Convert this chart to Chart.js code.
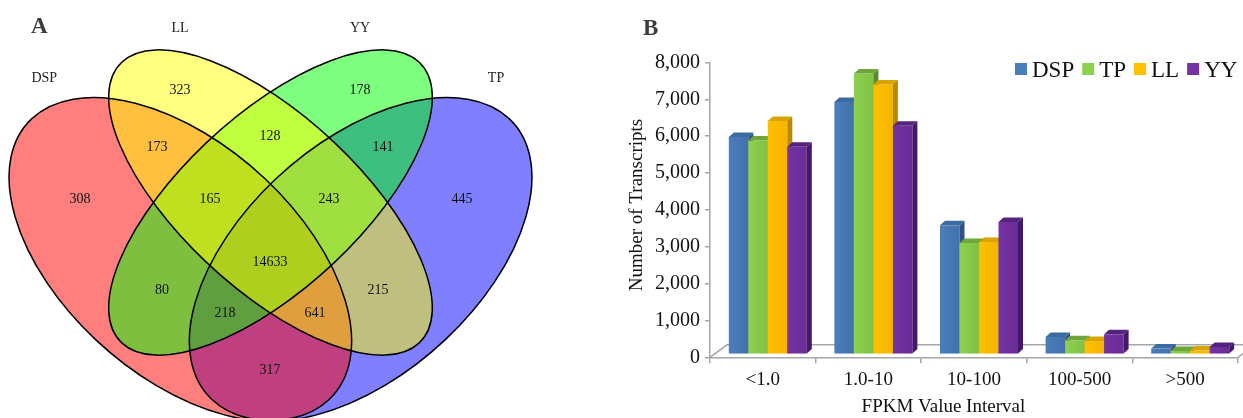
<!DOCTYPE html>
<html><head><meta charset="utf-8">
<script src="https://cdn.jsdelivr.net/npm/chart.js@4.4.0/dist/chart.umd.min.js"></script>
<style>
html,body{margin:0;padding:0;background:#fff;}
#wrap{position:relative;width:1243px;height:418px;overflow:hidden;background:#fff;}
#venn{position:absolute;left:0;top:0;}
#bars{position:absolute;left:600px;top:0;}
</style></head><body>
<div id="wrap"><canvas id="venn" width="600" height="418"></canvas><canvas id="bars" width="643" height="418"></canvas></div>
<script>
const SERIF = "'Times New Roman', 'Liberation Serif', serif";

// ---------- Panel A data ----------
const vennSets = ['DSP', 'LL', 'YY', 'TP'];
const vennRegions = ['DSP', 'LL', 'YY', 'TP', 'DSP∩LL', 'LL∩YY', 'YY∩TP', 'DSP∩LL∩YY', 'LL∩YY∩TP',
  'DSP∩LL∩YY∩TP', 'DSP∩YY', 'DSP∩YY∩TP', 'DSP∩LL∩TP', 'LL∩TP', 'DSP∩TP'];
const vennCounts = [308, 323, 178, 445, 173, 128, 141, 165, 243, 14633, 80, 218, 641, 215, 317];

// ---------- Panel B data ----------
const intervals = ['<1.0', '1.0-10', '10-100', '100-500', '>500'];
const seriesNames = ['DSP', 'TP', 'LL', 'YY'];
const dspValues = [5900, 6850, 3500, 470, 155];
const tpValues = [5800, 7620, 3020, 380, 90];
const llValues = [6330, 7320, 3050, 360, 100];
const yyValues = [5630, 6200, 3590, 543, 200];
const yTickValues = [0, 1000, 2000, 3000, 4000, 5000, 6000, 7000, 8000];

// ---------- Panel A layout (Venn geometry in unit-square coordinates) ----------
const vennShapes = { // drawn in this order so the 50% fills blend as in the figure
  TP:  { cx: 0.65, cy: 0.47, a: 0.35, b: 0.20, rot: 45,  fill: 'rgba(0,0,255,0.5)' },
  DSP: { cx: 0.35, cy: 0.47, a: 0.35, b: 0.20, rot: -45, fill: 'rgba(255,0,0,0.5)' },
  YY:  { cx: 0.50, cy: 0.57, a: 0.35, b: 0.15, rot: 45,  fill: 'rgba(0,255,0,0.5)' },
  LL:  { cx: 0.50, cy: 0.57, a: 0.35, b: 0.15, rot: -45, fill: 'rgba(255,255,0,0.5)' }
};
const vennDrawOrder = ['TP', 'DSP', 'YY', 'LL'];
const vennSetLabelPos = { DSP: [0.1235, 0.7896], LL: [0.3494, 0.8778], YY: [0.6489, 0.8778], TP: [0.8752, 0.7896] };
const vennRegionPos = [
  [0.1830, 0.5762], [0.3494, 0.7685], [0.6489, 0.7685], [0.8186, 0.5762],
  [0.3111, 0.6679], [0.4992, 0.6873], [0.6872, 0.6679], [0.3993, 0.5762], [0.5973, 0.5762],
  [0.4992, 0.4651], [0.3195, 0.4157], [0.4243, 0.3751], [0.5740, 0.3751], [0.6789, 0.4157], [0.4992, 0.2744]
];

const vennPlugin = {
  id: 'vennPlugin',
  beforeDatasetsDraw(chart) {
    const { ctx, scales: { x, y } } = chart;
    const sx = x.getPixelForValue(1) - x.getPixelForValue(0);
    const sy = y.getPixelForValue(0) - y.getPixelForValue(1);
    const paths = {};
    vennDrawOrder.forEach(name => {
      const e = vennShapes[name];
      ctx.save();
      ctx.translate(x.getPixelForValue(e.cx), y.getPixelForValue(e.cy));
      ctx.scale(sx, -sy);
      ctx.rotate(e.rot * Math.PI / 180);
      const p = new Path2D();
      p.ellipse(0, 0, e.a, e.b, 0, 0, Math.PI * 2);
      const m = ctx.getTransform();
      ctx.restore();
      const dp = new Path2D();
      dp.addPath(p, m);
      paths[name] = dp;
      ctx.save();
      ctx.setTransform(1, 0, 0, 1, 0, 0);
      ctx.fillStyle = e.fill;
      ctx.fill(dp);
      ctx.restore();
    });
    ctx.save();
    ctx.setTransform(1, 0, 0, 1, 0, 0);
    ctx.strokeStyle = '#000';
    ctx.lineWidth = 1.5;
    vennDrawOrder.forEach(name => ctx.stroke(paths[name]));
    ctx.restore();
  },
  afterDatasetsDraw(chart) {
    const { ctx, scales: { x, y } } = chart;
    const meta = chart.getDatasetMeta(0);
    ctx.save();
    ctx.fillStyle = '#111';
    ctx.textAlign = 'center';
    ctx.textBaseline = 'middle';
    ctx.font = '14px ' + SERIF;
    meta.data.forEach((pt, i) => ctx.fillText(String(vennCounts[i]), pt.x, pt.y));
    ctx.fillStyle = '#222';
    vennSets.forEach(s => {
      const p = vennSetLabelPos[s];
      ctx.fillText(s, x.getPixelForValue(p[0]), y.getPixelForValue(p[1]));
    });
    ctx.fillStyle = '#3c3c3c';
    ctx.textAlign = 'left';
    ctx.textBaseline = 'alphabetic';
    ctx.font = 'bold 23px ' + SERIF;
    ctx.fillText('A', 31, 33);
    ctx.restore();
  }
};

new Chart(document.getElementById('venn'), {
  type: 'scatter',
  data: { datasets: [{ label: 'regions', data: vennRegionPos.map(p => ({ x: p[0], y: p[1] })), pointRadius: 0 }] },
  options: {
    responsive: false, animation: false,
    layout: { padding: 0 },
    scales: {
      x: { type: 'linear', min: 0.04992, max: 1.04825, display: false },
      y: { type: 'linear', min: 0.18995, max: 0.92716, display: false }
    },
    plugins: { legend: { display: false }, tooltip: { enabled: false } }
  },
  plugins: [vennPlugin]
});

// ---------- Panel B ----------
const seriesStyle = [
  { front: '#4A7EBB', frontDark: '#4271AA', top: '#3C6AA2', side: '#2E5283' },
  { front: '#8ED150', frontDark: '#80C044', top: '#6FA63A', side: '#5A8A2D' },
  { front: '#FFC000', frontDark: '#F5B400', top: '#D9A300', side: '#B88A00' },
  { front: '#7432A3', frontDark: '#692C95', top: '#55237D', side: '#45196A' }
];
const DEPTH = { dx: 5, dy: 4.5 };      // 3D face offset of each column
const SHIFT = { x: 5, y: -3 };         // columns stand at mid-depth of the floor
const FLOOR = { dx: 17, dy: 12.5 };    // depth of the floor
const AXIS_GRAY = '#a6a6a6';

const bar3d = {
  id: 'bar3d',
  beforeDatasetsDraw(chart) {
    const { ctx, chartArea: { left, right, bottom } } = chart;
    ctx.save();
    ctx.strokeStyle = AXIS_GRAY;
    ctx.lineWidth = 1.5;
    ctx.beginPath();
    ctx.moveTo(left, bottom);
    ctx.lineTo(left + FLOOR.dx, bottom - FLOOR.dy);
    ctx.lineTo(right + FLOOR.dx, bottom - FLOOR.dy);
    ctx.moveTo(right, bottom);
    ctx.lineTo(right + FLOOR.dx, bottom - FLOOR.dy);
    ctx.stroke();
    ctx.restore();
  },
  afterDatasetsDraw(chart) {
    const { ctx } = chart;
    const nCat = chart.data.labels.length;
    const nSer = chart.data.datasets.length;
    ctx.save();
    for (let j = 0; j < nCat; j++) {
      for (let i = 0; i < nSer; i++) {
        const el = chart.getDatasetMeta(i).data[j];
        const st = seriesStyle[i];
        const l = el.x - el.width / 2 + SHIFT.x, r = el.x + el.width / 2 + SHIFT.x;
        const t = el.y + SHIFT.y, b = el.base + SHIFT.y;
        // front
        const g = ctx.createLinearGradient(l, 0, r, 0);
        g.addColorStop(0, st.front); g.addColorStop(1, st.frontDark);
        ctx.fillStyle = g;
        ctx.fillRect(l, t, r - l, b - t);
        // top
        ctx.fillStyle = st.top;
        ctx.beginPath();
        ctx.moveTo(l, t); ctx.lineTo(l + DEPTH.dx, t - DEPTH.dy);
        ctx.lineTo(r + DEPTH.dx, t - DEPTH.dy); ctx.lineTo(r, t); ctx.closePath();
        ctx.fill();
        // side
        ctx.fillStyle = st.side;
        ctx.beginPath();
        ctx.moveTo(r, t); ctx.lineTo(r + DEPTH.dx, t - DEPTH.dy);
        ctx.lineTo(r + DEPTH.dx, b - DEPTH.dy); ctx.lineTo(r, b); ctx.closePath();
        ctx.fill();
      }
    }
    ctx.restore();
  },
  afterDraw(chart) {
    const { ctx, chartArea } = chart;
    ctx.save();
    // axis titles
    ctx.fillStyle = '#111';
    ctx.font = '19px ' + SERIF;
    ctx.textAlign = 'center';
    ctx.textBaseline = 'middle';
    ctx.fillText('FPKM Value Interval', chartArea.left + 0.442 * (chartArea.right - chartArea.left), 407);
    ctx.save();
    ctx.translate(37, 205);
    ctx.rotate(-Math.PI / 2);
    ctx.fillText('Number of Transcripts', 0, 0);
    ctx.restore();
    // legend
    ctx.font = '23px ' + SERIF;
    ctx.textAlign = 'left';
    ctx.textBaseline = 'alphabetic';
    let xPos = 415;
    chart.data.datasets.forEach((ds, i) => {
      ctx.fillStyle = seriesStyle[i].front;
      ctx.fillRect(xPos, 63, 12, 12);
      xPos += 12 + 5;
      ctx.fillStyle = '#111';
      ctx.fillText(ds.label, xPos, 77);
      xPos += ctx.measureText(ds.label).width + 8;
    });
    // panel letter
    ctx.fillStyle = '#3c3c3c';
    ctx.font = 'bold 23px ' + SERIF;
    ctx.fillText('B', 43, 35);
    ctx.restore();
  }
};

const seriesValues = [dspValues, tpValues, llValues, yyValues];
new Chart(document.getElementById('bars'), {
  type: 'bar',
  data: {
    labels: intervals,
    datasets: seriesNames.map((name, i) => ({
      label: name,
      data: seriesValues[i],
      backgroundColor: 'rgba(0,0,0,0)',
      borderWidth: 0,
      categoryPercentage: 0.7386,
      barPercentage: 1.0
    }))
  },
  options: {
    responsive: false, animation: false,
    layout: { padding: { top: 62.5, right: 5, left: 0, bottom: 0 } },
    scales: {
      x: {
        type: 'category',
        grid: { offset: true, drawOnChartArea: false, drawTicks: true, tickLength: 6, color: AXIS_GRAY, lineWidth: 1.5 },
        border: { display: true, color: AXIS_GRAY, width: 1.5 },
        ticks: { color: '#111', font: { family: SERIF, size: 19 }, padding: 5, maxRotation: 0, autoSkip: false },
        afterFit(scale) { scale.height = 418 - 357.3; }
      },
      y: {
        min: 0, max: 8000,
        afterBuildTicks(scale) { scale.ticks = yTickValues.map(v => ({ value: v })); },
        grid: { drawOnChartArea: false, drawTicks: true, tickLength: 5, color: AXIS_GRAY, lineWidth: 1.5 },
        border: { display: true, color: AXIS_GRAY, width: 1.5 },
        ticks: {
          color: '#111', font: { family: SERIF, size: 20 }, padding: 5,
          callback: v => Number(v).toLocaleString('en-US')
        },
        afterFit(scale) { scale.width = 110; }
      }
    },
    plugins: { legend: { display: false }, tooltip: { enabled: false } }
  },
  plugins: [bar3d]
});
</script>
</body></html>
